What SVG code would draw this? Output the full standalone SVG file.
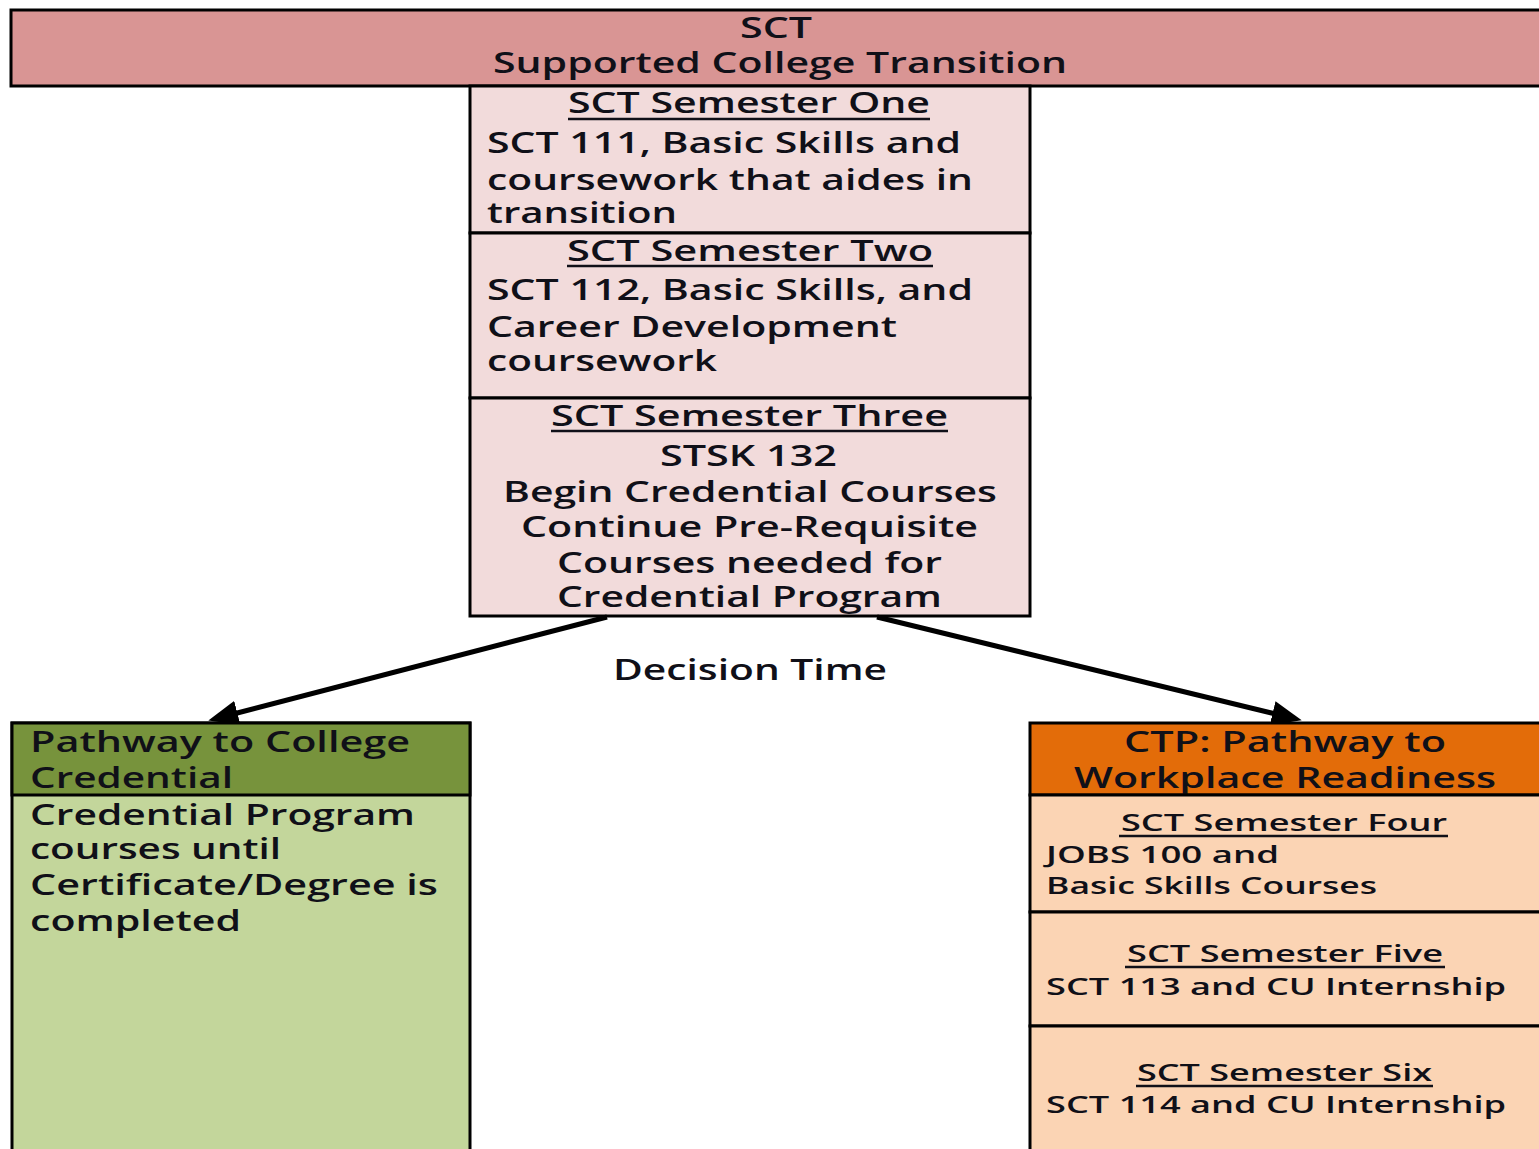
<svg xmlns="http://www.w3.org/2000/svg" width="1539" height="1149" viewBox="0 0 1539 1149">
<style>
.t{font-family:"Open Sans","DejaVu Sans",sans-serif;font-weight:600;font-size:28px;fill:#101018}
.s{font-size:24px}
.box{stroke:#000;stroke-width:3}
.ul{stroke:#101018;stroke-width:2.5}
.conn{stroke:#000;stroke-width:5;fill:none}
</style>
<defs>
<marker id="ah" markerWidth="6" markerHeight="5" refX="4" refY="2.5" orient="auto" markerUnits="strokeWidth">
<path d="M0,0 L6,2.5 L0,5 z" fill="#000"/>
</marker>
</defs>
<rect width="1539" height="1149" fill="#fff"/>

<g id="top">
<rect class="box" x="11" y="10" width="1530" height="76" fill="#d99594"/>
<text class="t" x="776" y="38" text-anchor="middle" textLength="72" lengthAdjust="spacingAndGlyphs">SCT</text>
<text class="t" x="493" y="73" textLength="574" lengthAdjust="spacingAndGlyphs">Supported College Transition</text>
</g>

<g id="sem1">
<rect class="box" x="470" y="86" width="560" height="147" fill="#f2dbdb"/>
<text class="t" x="568" y="113" textLength="362" lengthAdjust="spacingAndGlyphs">SCT Semester One</text>
<line class="ul" x1="568" y1="119" x2="930" y2="119"/>
<text class="t" x="487" y="153" textLength="474" lengthAdjust="spacingAndGlyphs">SCT 111, Basic Skills and</text>
<text class="t" x="487" y="190" textLength="486" lengthAdjust="spacingAndGlyphs">coursework that aides in</text>
<text class="t" x="487" y="223" textLength="190" lengthAdjust="spacingAndGlyphs">transition</text>
</g>

<g id="sem2">
<rect class="box" x="470" y="233" width="560" height="165" fill="#f2dbdb"/>
<text class="t" x="567" y="261" textLength="366" lengthAdjust="spacingAndGlyphs">SCT Semester Two</text>
<line class="ul" x1="567" y1="266" x2="933" y2="266"/>
<text class="t" x="487" y="300" textLength="486" lengthAdjust="spacingAndGlyphs">SCT 112, Basic Skills, and</text>
<text class="t" x="487" y="337" textLength="410" lengthAdjust="spacingAndGlyphs">Career Development</text>
<text class="t" x="487" y="371" textLength="230" lengthAdjust="spacingAndGlyphs">coursework</text>
</g>

<g id="sem3">
<rect class="box" x="470" y="398" width="560" height="218" fill="#f2dbdb"/>
<text class="t" x="551" y="426" textLength="397" lengthAdjust="spacingAndGlyphs">SCT Semester Three</text>
<line class="ul" x1="551" y1="431" x2="948" y2="431"/>
<text class="t" x="660" y="466" textLength="177" lengthAdjust="spacingAndGlyphs">STSK 132</text>
<text class="t" x="503" y="502" textLength="494" lengthAdjust="spacingAndGlyphs">Begin Credential Courses</text>
<text class="t" x="521" y="537" textLength="457" lengthAdjust="spacingAndGlyphs">Continue Pre-Requisite</text>
<text class="t" x="557" y="573" textLength="385" lengthAdjust="spacingAndGlyphs">Courses needed for</text>
<text class="t" x="557" y="607" textLength="385" lengthAdjust="spacingAndGlyphs">Credential Program</text>
</g>

<g id="connectors">
<line class="conn" x1="607" y1="617" x2="218" y2="718" marker-end="url(#ah)"/>
<line class="conn" x1="877" y1="617" x2="1292" y2="718" marker-end="url(#ah)"/>
<text class="t" x="613" y="680" textLength="274" lengthAdjust="spacingAndGlyphs">Decision Time</text>
</g>

<g id="college">
<rect class="box" x="12" y="723" width="458" height="440" fill="#c3d69b"/>
<rect class="box" x="12" y="723" width="458" height="72" fill="#77933c"/>
<text class="t" x="30" y="752" textLength="380" lengthAdjust="spacingAndGlyphs">Pathway to College</text>
<text class="t" x="30" y="788" textLength="203" lengthAdjust="spacingAndGlyphs">Credential</text>
<text class="t" x="30" y="825" textLength="385" lengthAdjust="spacingAndGlyphs">Credential Program</text>
<text class="t" x="30" y="859" textLength="251" lengthAdjust="spacingAndGlyphs">courses until</text>
<text class="t" x="30" y="895" textLength="408" lengthAdjust="spacingAndGlyphs">Certificate/Degree is</text>
<text class="t" x="30" y="931" textLength="211" lengthAdjust="spacingAndGlyphs">completed</text>
</g>

<g id="workplace">
<rect class="box" x="1030" y="723" width="512" height="72" fill="#e36c09"/>
<text class="t" x="1124" y="752" textLength="322" lengthAdjust="spacingAndGlyphs">CTP: Pathway to</text>
<text class="t" x="1074" y="788" textLength="422" lengthAdjust="spacingAndGlyphs">Workplace Readiness</text>
</g>

<g id="sem4">
<rect class="box" x="1030" y="795" width="512" height="117" fill="#fbd4b4"/>
<text class="t s" x="1121" y="831" textLength="326" lengthAdjust="spacingAndGlyphs">SCT Semester Four</text>
<line class="ul" x1="1119" y1="836" x2="1448" y2="836"/>
<text class="t s" x="1046" y="863" textLength="233" lengthAdjust="spacingAndGlyphs">JOBS 100 and</text>
<text class="t s" x="1046" y="894" textLength="331" lengthAdjust="spacingAndGlyphs">Basic Skills Courses</text>
</g>

<g id="sem5">
<rect class="box" x="1030" y="912" width="512" height="114" fill="#fbd4b4"/>
<text class="t s" x="1127" y="962" textLength="316" lengthAdjust="spacingAndGlyphs">SCT Semester Five</text>
<line class="ul" x1="1125" y1="967" x2="1445" y2="967"/>
<text class="t s" x="1046" y="995" textLength="460" lengthAdjust="spacingAndGlyphs">SCT 113 and CU Internship</text>
</g>

<g id="sem6">
<rect class="box" x="1030" y="1026" width="512" height="137" fill="#fbd4b4"/>
<text class="t s" x="1137" y="1081" textLength="295" lengthAdjust="spacingAndGlyphs">SCT Semester Six</text>
<line class="ul" x1="1136" y1="1086" x2="1433" y2="1086"/>
<text class="t s" x="1046" y="1113" textLength="460" lengthAdjust="spacingAndGlyphs">SCT 114 and CU Internship</text>
</g>
</svg>
